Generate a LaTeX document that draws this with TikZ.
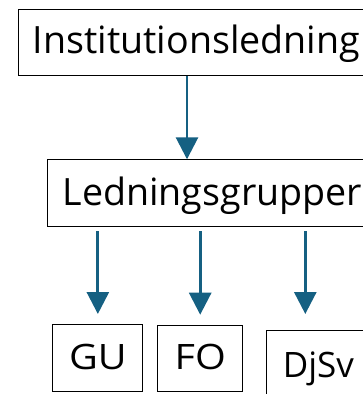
\documentclass[tikz,border=0pt]{standalone}
\usepackage{fontspec}
\setmainfont{Open Sans}
\newfontfamily\widef[FakeStretch=1.13]{Open Sans}
\usetikzlibrary{arrows.meta}
\definecolor{acc}{HTML}{156082}
\begin{document}
\begin{tikzpicture}[x=1pt,y=-1pt,
  box/.style={draw=black, line width=1.1pt, anchor=north west},
  bigtxt/.style={font=\fontsize{37.6}{40}\selectfont, align=left, inner ysep=0pt, text height=30pt, text depth=6.4pt},
  smalltxt/.style={font=\widef\fontsize{35}{40}\selectfont, inner sep=0pt, text height=28pt, text depth=5.2pt},
  arr/.style={draw=acc, line width=2.8pt, -{Triangle[width=22pt,length=22pt]}}]
\useasboundingbox (0,0) rectangle (363,394);
\clip (0,0) rectangle (363,394);
\node[box, bigtxt, inner xsep=14.9pt, text width=380pt, minimum height=66pt] (inst) at (17.5,8.5) {Institutionsledning};
\node[box, bigtxt, inner xsep=15.4pt, text width=350pt, minimum height=66.7pt] (led) at (46.7,159.3) {Ledningsgrupper};
\node[box, smalltxt, minimum width=90pt, minimum height=67.3pt] (gu) at (52.3,324) {GU};
\node[box, smalltxt, minimum width=84.7pt, minimum height=66.6pt] (fo) at (157.3,324.7) {FO};
\node[box, font=\fontsize{35}{40}\selectfont, inner ysep=0pt, inner xsep=15.9pt, text width=150pt, align=left, minimum height=94pt, text height=28pt, text depth=27.4pt] (djsv) at (266.3,330) {DjSv};
\coordinate (a1) at (187,0);
\coordinate (a3) at (305.3,0);
\draw[arr] (a1 |- inst.south) -- (a1 |- led.north);
\draw[arr] ([yshift=-4pt]led.south -| gu.north) -- ([yshift=10pt]gu.north);
\draw[arr] ([yshift=-4pt]led.south -| fo.north) -- ([yshift=10pt]fo.north);
\draw[arr] ([yshift=-4pt]led.south -| a3) -- ([yshift=16pt]djsv.north -| a3);
\end{tikzpicture}
\end{document}
